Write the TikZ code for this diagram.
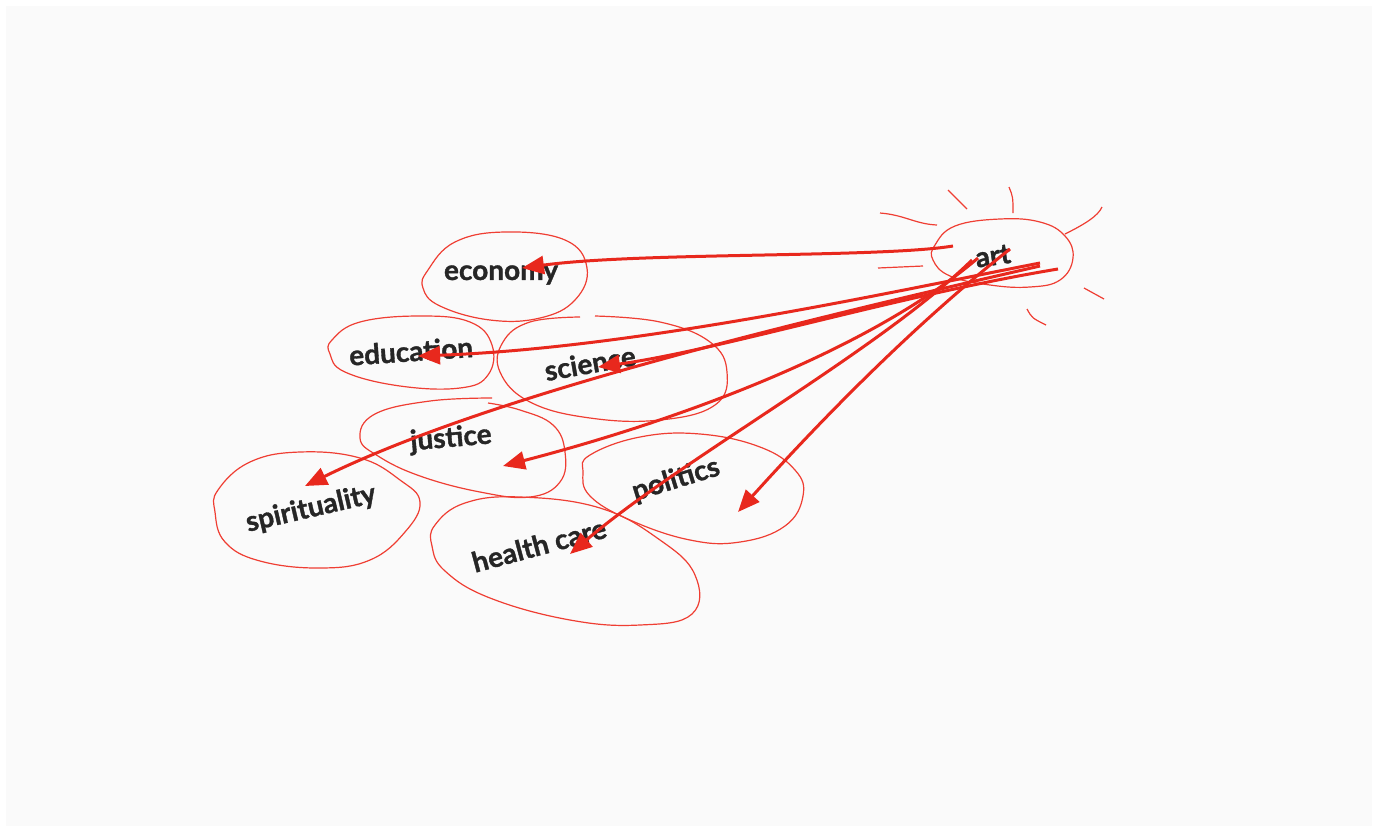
\documentclass[tikz,border=0pt]{standalone}
\usepackage{fontspec}
\setmainfont{Lato}[BoldFeatures={FakeBold=1.2}]
\usetikzlibrary{arrows.meta}
\definecolor{pen}{HTML}{E8281D}
\definecolor{blob}{HTML}{EF3E33}
\definecolor{ink}{HTML}{262626}
\definecolor{paper}{HTML}{FAFAFA}

\begin{document}
\begin{tikzpicture}[x=0.5pt,y=-0.5pt]
\def\l{11pt}
\def\w{9pt}
\def\lw{1.5pt}
\def\bw{0.6pt}
\tikzset{word/.style={text=ink, font=\bfseries\fontsize{14}{16}\selectfont, inner sep=1pt}}
\fill[white] (0,0) rectangle (1378,832);
\fill[paper] (6,6) rectangle (1372,826);
%blobs
\draw[blob, line width=\bw] plot[smooth cycle, tension=0.7] coordinates {(428,270) (455,242) (505,232) (565,240) (587,268) (575,300) (540,318) (490,320) (440,306) (423,288)};
\draw[blob, line width=\bw] plot[smooth cycle, tension=0.7] coordinates {(332,340) (360,322) (420,316) (470,322) (492,345) (488,375) (460,388) (400,386) (345,372) (330,354)};
\draw[blob, line width=\bw] plot[smooth, tension=0.7] coordinates {(595,316) (660,322) (710,342) (727,372) (715,405) (660,420) (590,418) (530,402) (500,372) (503,342) (530,322) (580,317)};
\draw[blob, line width=\bw] plot[smooth, tension=0.7] coordinates {(492,398) (430,401) (375,414) (360,438) (378,456) (420,476) (480,492) (530,497) (560,482) (565,452) (553,425) (520,410) (488,403)};
\draw[blob, line width=\bw] plot[smooth cycle, tension=0.7] coordinates {(218,490) (250,462) (300,452) (360,458) (400,480) (420,502) (405,532) (370,560) (320,568) (260,561) (225,542) (215,512)};
\draw[blob, line width=\bw] plot[smooth cycle, tension=0.7] coordinates {(435,525) (465,503) (520,497) (600,508) (660,540) (695,575) (692,614) (640,625) (570,620) (490,598) (445,571) (432,546)};
\draw[blob, line width=\bw] plot[smooth cycle, tension=0.7] coordinates {(590,455) (640,437) (700,434) (760,447) (795,470) (803,496) (785,526) (740,542) (690,540) (630,520) (590,496) (583,472)};
\draw[blob, line width=\bw] plot[smooth cycle, tension=0.7] coordinates {(935,245) (955,226) (1000,219) (1040,222) (1065,236) (1073,258) (1060,280) (1030,287) (990,285) (950,276) (933,260)};
%rays
\draw[blob, line width=\bw] (880,213) .. controls (905,215) and (915,224) .. (937,225);
\draw[blob, line width=\bw] (948,190) -- (967,209);
\draw[blob, line width=\bw] (1009,187) .. controls (1013,197) .. (1013,213);
\draw[blob, line width=\bw] (1065,234) .. controls (1085,224) and (1098,216) .. (1102,207);
\draw[blob, line width=\bw] (878,268) -- (923,266);
\draw[blob, line width=\bw] (1084,288) -- (1104,299);
\draw[blob, line width=\bw] (1027,309) .. controls (1032,318) .. (1046,325);
%labels
\node[word, name=econ] at (501,275) {economy};
\node[word, rotate=4, name=edu] at (411,351) {education};
\node[word, rotate=10, name=sci] at (590,363) {science};
\node[word, rotate=5, name=just] at (451,439) {justice};
\node[word, rotate=13, name=spir] at (311,509) {spirituality};
\node[word, rotate=15, name=health] at (539,545) {health care};
\node[word, rotate=17, name=pol] at (676,480) {politics};
\node[word, rotate=8, name=art] at (993,256) {art};
%ends of the strokes
\coordinate (a1) at (953,246);
\coordinate (a2) at (1040,263);
\coordinate (a3) at (1058,269);
\coordinate (a4) at (1040,266);
\coordinate (a5) at (978,258);
\coordinate (a6) at (972,260);
\coordinate (a7) at (1010,249);
\coordinate (t1) at (522,268);
\coordinate (t2) at (418,356);
\coordinate (t3) at (598,367);
\coordinate (t4) at (305,486);
\coordinate (t5) at (503,466);
\coordinate (t6) at (570,554);
\coordinate (t7) at (738,512);
\draw [pen, line width=\lw, -{Triangle[length=\l, width=\w]}](a1) .. controls (880,258) and (640,252) .. (t1);
\draw [pen, line width=\lw, -{Triangle[length=\l, width=\w]}](a2) .. controls (900,290) and (640,348) .. (t2);
\draw [pen, line width=\lw, -{Triangle[length=\l, width=\w]}](a3) .. controls (900,295) and (720,350) .. (t3);
\draw [pen, line width=\lw, -{Triangle[length=\l, width=\w]}](a4) .. controls (760,330) and (480,400) .. (t4);
\draw [pen, line width=\lw, -{Triangle[length=\l, width=\w]}](a5) .. controls (870,350) and (680,420) .. (t5);
\draw [pen, line width=\lw, -{Triangle[length=\l, width=\w]}](a6) .. controls (880,350) and (680,460) .. (t6);
\draw [pen, line width=\lw, -{Triangle[length=\l, width=\w]}](a7) .. controls (920,320) and (830,410) .. (t7);
\end{tikzpicture}
\end{document}
